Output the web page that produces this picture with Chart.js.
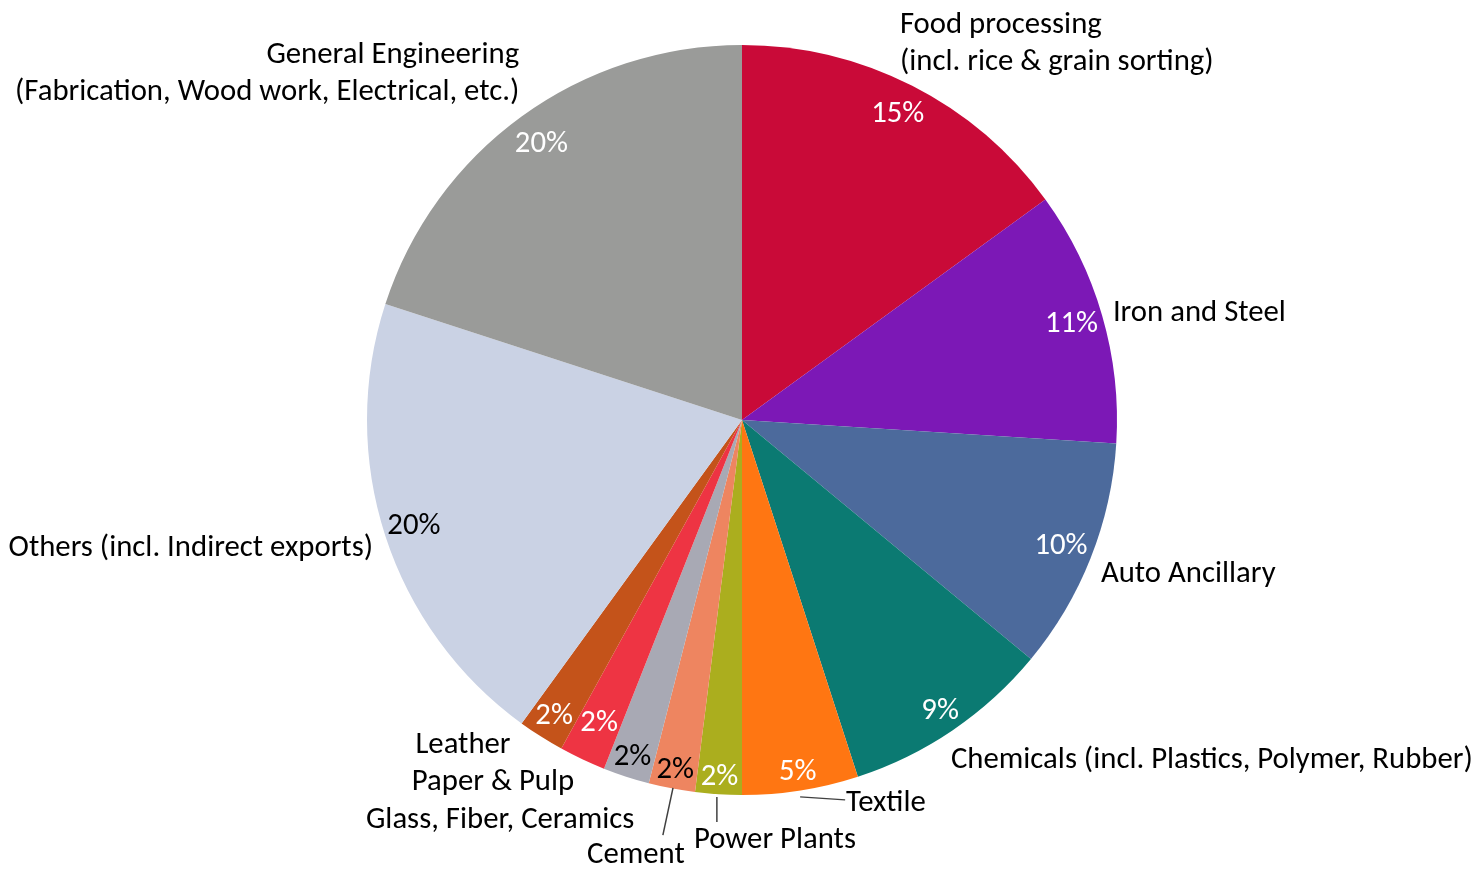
<!DOCTYPE html>
<html>
<head>
<meta charset="utf-8">
<script src="https://cdn.jsdelivr.net/npm/chart.js@4"></script>
<style>
  html, body { margin: 0; padding: 0; background: #ffffff; }
  #wrap { width: 1477px; height: 869px; position: relative; }
</style>
</head>
<body>
<div id="wrap"><canvas id="c"></canvas></div>
<script>
// ---- data ----
const categories = [
  ['Food processing', '(incl. rice & grain sorting)'],
  ['Iron and Steel'],
  ['Auto Ancillary'],
  ['Chemicals (incl. Plastics, Polymer, Rubber)'],
  ['Textile'],
  ['Power Plants'],
  ['Cement'],
  ['Glass, Fiber, Ceramics'],
  ['Paper & Pulp'],
  ['Leather'],
  ['Others (incl. Indirect exports)'],
  ['General Engineering', '(Fabrication, Wood work, Electrical, etc.)']
];
const shares = [15, 11, 10, 9, 5, 2, 2, 2, 2, 2, 20, 20];
const sliceColors = ['#C90A38', '#7C18B6', '#4C6A9C', '#0B7A72', '#FF7612', '#ABAE1E',
                     '#EE8560', '#A8A9B4', '#EE3443', '#C4531A', '#CAD2E4', '#9A9B99'];
const pctColors = ['#fff', '#fff', '#fff', '#fff', '#fff', '#fff',
                   '#000', '#000', '#fff', '#fff', '#000', '#fff'];

// ---- label layout (relative to pie centre, in units of radius) ----
const pctRadius = [0.915, 0.915, 0.915, 0.94, 0.95, 0.955, 0.95, 0.945, 0.895, 0.935, 0.92, 0.91];
const labelLayout = [
  { dx: 0.421, dy: -1.053, align: 'left' },
  { dx: 0.989, dy: -0.285, align: 'left' },
  { dx: 0.957, dy: 0.411, align: 'left' },
  { dx: 0.557, dy: 0.907, align: 'left' },
  { dx: 0.277, dy: 1.021, align: 'left' },
  { dx: -0.128, dy: 1.120, align: 'left' },
  { dx: -0.283, dy: 1.160, align: 'center' },
  { dx: -0.645, dy: 1.067, align: 'center' },
  { dx: -0.664, dy: 0.965, align: 'center' },
  { dx: -0.744, dy: 0.867, align: 'center' },
  { dx: -0.984, dy: 0.341, align: 'right' },
  { dx: -0.594, dy: -0.973, align: 'right' }
];
const lineStep = 0.1;
const leaders = [
  { i: 4, x1: 0.155, y1: 1.005, x2: 0.275, y2: 1.013 },
  { i: 5, x1: -0.067, y1: 1.005, x2: -0.067, y2: 1.072 },
  { i: 6, x1: -0.184, y1: 0.981, x2: -0.211, y2: 1.107 }
];

const FONT = 'Carlito, Lato, "Open Sans", sans-serif';

const labelPlugin = {
  id: 'labels',
  afterDatasetsDraw(chart) {
    const ctx = chart.ctx;
    const meta = chart.getDatasetMeta(0);
    const arc0 = meta.data[0];
    const cx = arc0.x, cy = arc0.y, R = arc0.outerRadius;
    ctx.save();
    ctx.font = '27px ' + FONT;
    const w = ctx.measureText('Chemicals (incl. Plastics, Polymer, Rubber)').width;
    const fs = 27 * (522 / 750) * (2 * R) / w;
    const lineH = lineStep * R;
    ctx.font = fs + 'px ' + FONT;
    ctx.textBaseline = 'middle';

    // percentages
    meta.data.forEach((arc, i) => {
      const mid = (arc.startAngle + arc.endAngle) / 2;
      const r = R * pctRadius[i];
      ctx.fillStyle = pctColors[i];
      ctx.textAlign = 'center';
      ctx.fillText(shares[i] + '%', cx + Math.cos(mid) * r, cy + Math.sin(mid) * r);
    });

    // leader lines
    ctx.strokeStyle = '#404040';
    ctx.lineWidth = 1.5;
    leaders.forEach(l => {
      ctx.beginPath();
      ctx.moveTo(cx + l.x1 * R, cy + l.y1 * R);
      ctx.lineTo(cx + l.x2 * R, cy + l.y2 * R);
      ctx.stroke();
    });

    // category labels
    ctx.fillStyle = '#000';
    categories.forEach((lines, i) => {
      const L = labelLayout[i];
      ctx.textAlign = L.align;
      lines.forEach((t, k) => {
        ctx.fillText(t, cx + L.dx * R, cy + L.dy * R + k * lineH);
      });
    });
    ctx.restore();
  }
};

new Chart(document.getElementById('c'), {
  type: 'pie',
  data: {
    labels: categories.map(l => l.join(' ')),
    datasets: [{
      data: shares,
      backgroundColor: sliceColors,
      borderWidth: 0
    }]
  },
  options: {
    responsive: true,
    maintainAspectRatio: false,
    animation: false,
    layout: { padding: { left: 367, right: 360, top: 45, bottom: 74 } },
    plugins: { legend: { display: false }, tooltip: { enabled: false } }
  },
  plugins: [labelPlugin]
});
</script>
</body>
</html>
